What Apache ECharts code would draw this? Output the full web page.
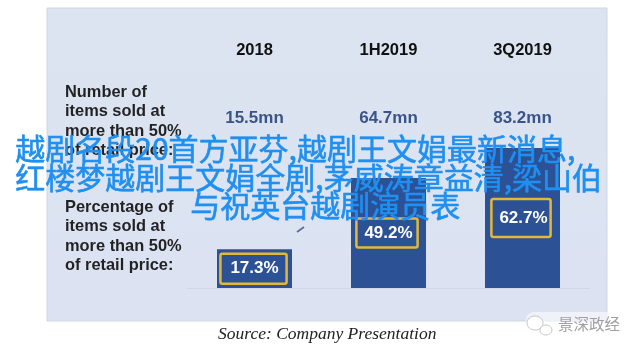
<!DOCTYPE html>
<html><head><meta charset="utf-8">
<style>html,body{margin:0;padding:0;background:#fff}#c{width:640px;height:354px}</style>
<script src="https://cdn.jsdelivr.net/npm/echarts@6/dist/echarts.min.js"></script>
</head><body><div id="c"></div>
<script>
const periods = ['2018', '1H2019', '3Q2019'];
const itemsSoldLabels = ['15.5mn', '64.7mn', '83.2mn'];
const percentSold = [17.3, 49.2, 62.7];
const rowOneHeading = 'Number of\nitems sold at\nmore than 50%\nof retail price:';
const rowTwoHeading = 'Percentage of\nitems sold at\nmore than 50%\nof retail price:';
const sourceNote = 'Source: Company Presentation';
const watermark = '景深政经';
const overlayLines = ['越剧名段20首方亚芬,越剧王文娟最新消息,', '红楼梦越剧王文娟全剧,茅威涛章益清,梁山伯', '与祝英台越剧演员表'];

const labelBoxes = [
  {padding:[7,8,6,10], offset:[-1,0]},
  {padding:[6,5,6,8], offset:[-1.5,0]},
  {padding:[11,3,10,8], offset:[-1.5,0]}
];
const chart = echarts.init(document.getElementById('c'), null, {renderer:'canvas'});
const sans = '"Liberation Sans", Arial, sans-serif';
const rowText = (top, text) => ({
  type:'text', left:65, top, z:3,
  style:{text, font:'bold 16.4px '+sans, lineHeight:19.3, fill:'#111', opacity:.92}
});
const overlayText = (text, left, top) => ({
  type:'text', left, top, z:10,
  style:{text, font:'30px "Noto Sans CJK SC"', fill:'#1f8ff0', stroke:'#1f8ff0', lineWidth:.6}
});
const bubble = (cx, cy, rx, ry) => ({
  type:'ellipse', z:4, shape:{cx, cy, rx, ry},
  style:{fill:'rgba(255,255,255,.85)', stroke:'#c4c4c4', lineWidth:1}
});
chart.setOption({
  animation:false,
  grid:{left:187.5, width:402, top:2, height:286},
  xAxis:[
    {type:'category', data:periods, position:'bottom', offset:-238,
     axisLine:{show:false}, axisTick:{show:false},
     axisLabel:{margin:0, fontFamily:sans, fontSize:16.5, fontWeight:'bold', color:'#111', verticalAlign:'middle'}},
    {type:'category', data:itemsSoldLabels, position:'bottom', offset:-170,
     axisLine:{show:false}, axisTick:{show:false},
     axisLabel:{margin:0, fontFamily:sans, fontSize:17, fontWeight:'bold', color:'#3a5488', verticalAlign:'middle'}},
    {type:'category', data:periods, position:'bottom',
     axisLine:{show:true, lineStyle:{color:'#cfd7e6', width:1}}, axisTick:{show:false}, axisLabel:{show:false}}
  ],
  yAxis:{type:'value', min:0, max:128, show:false, splitLine:{show:false}},
  series:[{
    type:'bar', xAxisIndex:2, barWidth:75, z:2,
    itemStyle:{color:'#2c5195'},
    data:percentSold.map((value,i)=>({value, label:labelBoxes[i]})),
    label:{show:true, position:'inside', formatter:p=>p.value.toFixed(1)+'%',
      fontFamily:sans, fontSize:17, fontWeight:'bold', color:'#fff',
      borderColor:'#e3b83a', borderWidth:2.5, borderRadius:2}
  }],
  graphic:[
    {type:'rect', z:-1, shape:{x:47,y:8,width:560,height:313},
     style:{fill:new echarts.graphic.LinearGradient(0,0,0,1,[{offset:0,color:'#dbe4f0'},{offset:1,color:'#dce2f2'}]), stroke:'#cfd6e2', lineWidth:1}},
    rowText(83, rowOneHeading),
    rowText(198, rowTwoHeading),
    {type:'text', left:218, top:325, z:3,
     style:{text:sourceNote, font:'italic 17.5px "Liberation Serif", serif', fill:'#222'}},
    {type:'rect', z:3, shape:{x:526,y:312,width:98,height:26,r:8}, style:{fill:'rgba(255,255,255,.55)'}},
    bubble(535,323,8,7),
    bubble(546,330,6,5),
    {type:'text', left:558, top:316, z:5,
     style:{text:watermark, font:'15.5px "Noto Sans CJK SC"', fill:'#a0a0a0'}},
    {type:'line', z:9, shape:{x1:297,y1:232,x2:304,y2:227}, style:{stroke:'#5c6f9c', lineWidth:1.8}},
    overlayText(overlayLines[0], 15, 133),
    overlayText(overlayLines[1], 15, 162),
    overlayText(overlayLines[2], 190, 190)
  ]
});
</script></body></html>
